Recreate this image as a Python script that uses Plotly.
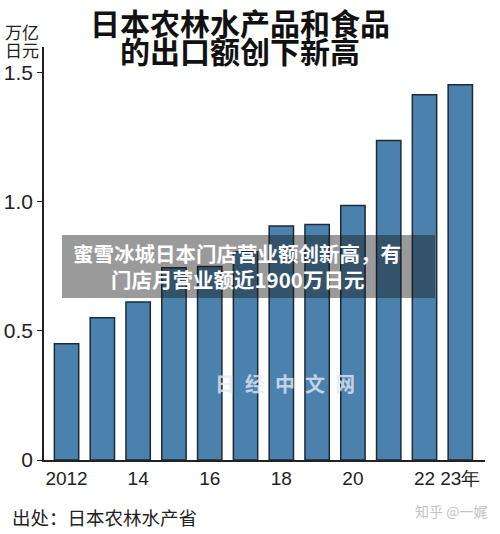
import plotly.graph_objects as go

years = [2012, 2013, 2014, 2015, 2016, 2017, 2018, 2019, 2020, 2021, 2022, 2023]
values = [0.450, 0.551, 0.612, 0.745, 0.750, 0.807, 0.907, 0.912, 0.986, 1.238, 1.415, 1.454]
tick_idx = [0, 2, 4, 6, 8, 10, 11]
tick_text = ["2012", "14", "16", "18", "20", "22", "23年"]
y_ticks = [0, 0.5, 1.0, 1.5]
y_tick_text = ["0", "0.5", "1.0", "1.5"]

title_lines = ["日本农林水产品和食品", "的出口额创下新高"]
unit_lines = ["万亿", "日元"]
banner_lines = ["蜜雪冰城日本门店营业额创新高，有", "门店月营业额近1900万日元"]
source_text = "出处：日本农林水产省"
credit_text = "知乎 @一娓"
watermark_text = "\u2002".join("日经中文网")

num_font = "Liberation Sans, Arial, sans-serif"
cjk = "Noto Sans CJK SC, sans-serif"

L, R, T, B = 44, 485, 47, 460
def px(xp): return (xp - L) / (R - L)
def py(yp): return (B - yp) / (B - T)

x = list(range(len(years)))
fig = go.Figure(go.Bar(
    x=x, y=values, width=0.68,
    marker=dict(color="#4b82ad", line=dict(color="#1c2b38", width=1.5)),
    hoverinfo="skip",
))

ann = []
for t, yy in zip(title_lines, [22, 50]):
    ann.append(dict(text=t, xref="paper", yref="paper", x=px(240), y=py(yy),
                    xanchor="center", yanchor="middle", showarrow=False,
                    font=dict(family=cjk, size=30, color="#111", weight="bold")))
for t, yy in zip(unit_lines, [31, 49]):
    ann.append(dict(text=t, xref="paper", yref="paper", x=px(3), y=py(yy),
                    xanchor="left", yanchor="middle", showarrow=False,
                    font=dict(family=cjk, size=17, color="#222")))
for t, yy in zip(banner_lines, [253, 279]):
    ann.append(dict(text=t, xref="paper", yref="paper", x=px(237), y=py(yy),
                    xanchor="center", yanchor="middle", showarrow=False,
                    font=dict(family=cjk, size=20.5, color="white", weight="bold")))
ann += [
    dict(text=watermark_text, xref="paper", yref="paper", x=px(285), y=py(383),
         xanchor="center", yanchor="middle", showarrow=False,
         font=dict(family=cjk, size=20, color="rgba(225,235,245,0.8)", weight="bold")),
    dict(text=source_text, xref="paper", yref="paper", x=px(10), y=py(517),
         xanchor="left", yanchor="middle", showarrow=False,
         font=dict(family=cjk, size=18.5, color="#222")),
    dict(text=credit_text, xref="paper", yref="paper", x=px(489), y=py(511),
         xanchor="right", yanchor="middle", showarrow=False,
         font=dict(family=cjk, size=14, color="#c4c4c4")),
]

fig.update_layout(
    width=500, height=534,
    margin=dict(l=L, r=500 - R, t=T, b=534 - B),
    paper_bgcolor="white", plot_bgcolor="white",
    showlegend=False,
    xaxis=dict(
        range=[-0.63, 11.69], tickmode="array", tickvals=tick_idx, ticktext=tick_text,
        showline=True, linecolor="#222", linewidth=1.5, ticks="", showgrid=False,
        tickangle=0, automargin=False,
        tickfont=dict(family=num_font, size=19, color="#222"), zeroline=False,
    ),
    yaxis=dict(
        range=[0, 1.6], tickmode="array", tickvals=y_ticks, ticktext=y_tick_text,
        showline=True, linecolor="#222", linewidth=1.5, ticks="outside", ticklen=5,
        tickcolor="#222", showgrid=False, zeroline=False, automargin=False,
        tickfont=dict(family=num_font, size=21, color="#222"),
    ),
    shapes=[dict(type="rect", xref="paper", yref="paper",
                 x0=px(62), x1=px(435), y0=py(298), y1=py(235),
                 fillcolor="rgba(20,20,20,0.43)", line=dict(width=0), layer="above")],
    annotations=ann,
)

fig.write_html("out.html")
